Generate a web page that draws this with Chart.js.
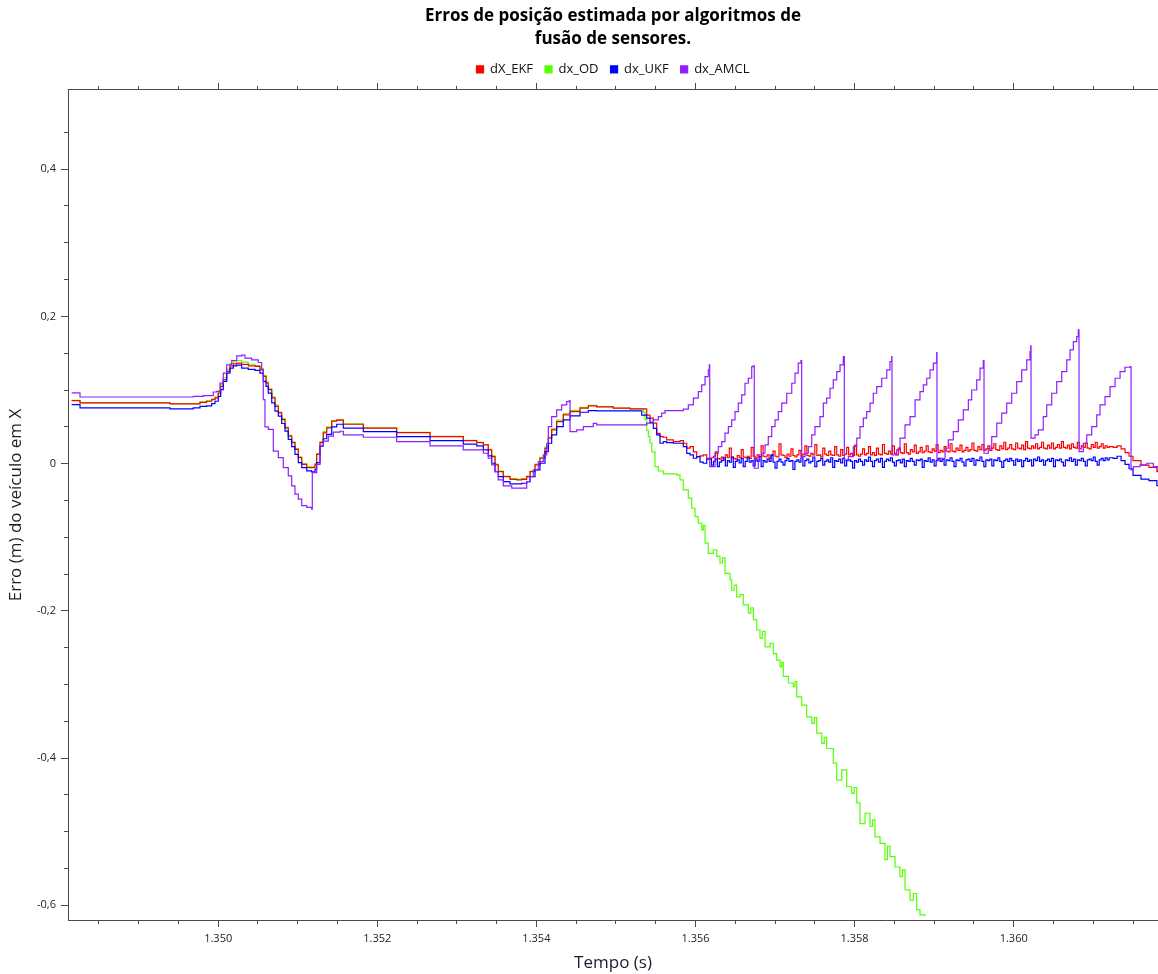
<!DOCTYPE html>
<html>
<head>
<meta charset="utf-8">
<script src="https://cdn.jsdelivr.net/npm/chart.js@4.4.1/dist/chart.umd.min.js"></script>
<style>
html,body{margin:0;padding:0;background:#ffffff;}
#wrap{width:1158px;height:974px;}
</style>
</head>
<body>
<div id="wrap"><canvas id="c" width="1158" height="974"></canvas></div>
<script>
// ---------------- DATA ----------------
const seriesNames = ['dX_EKF', 'dx_OD', 'dx_UKF', 'dx_AMCL'];

const xMajorTicks = [1.350, 1.352, 1.354, 1.356, 1.358, 1.360];
const xMinorTicks = [1.3485, 1.3490, 1.3495, 1.3500, 1.3505, 1.3510, 1.3515, 1.3520, 1.3525, 1.3530, 1.3535, 1.3540, 1.3545, 1.3550, 1.3555, 1.3560, 1.3565, 1.3570, 1.3575, 1.3580, 1.3585, 1.3590, 1.3595, 1.3600, 1.3605, 1.3610, 1.3615];
const yMajorTicks = [-0.6, -0.4, -0.2, 0, 0.2, 0.4];
const yMinorTicks = [-0.6, -0.55, -0.5, -0.45, -0.4, -0.35, -0.3, -0.25, -0.2, -0.15, -0.1, -0.05, 0, 0.05, 0.1, 0.15, 0.2, 0.25, 0.3, 0.35, 0.4, 0.45];

// shared time stamps (s) for the first part of EKF / OD / UKF
const headT = [1.348158, 1.348263, 1.349353, 1.349394, 1.349687, 1.349771, 1.349855, 1.349918, 1.349960, 1.350001,
  1.350031, 1.350064, 1.350107, 1.350148, 1.350190, 1.350233, 1.350295, 1.350378, 1.350463, 1.350525,
  1.350567, 1.350601, 1.350630, 1.350673, 1.350714, 1.350756, 1.350798, 1.350840, 1.350881, 1.350924,
  1.350965, 1.351007, 1.351050, 1.351113, 1.351175, 1.351217, 1.351238, 1.351280, 1.351321, 1.351364,
  1.351427, 1.351490, 1.351573, 1.351824, 1.352244, 1.352663, 1.353081, 1.353250, 1.353333, 1.353395,
  1.353438, 1.353480, 1.353521, 1.353584, 1.353668, 1.353752, 1.353815, 1.353878, 1.353920, 1.353983,
  1.354045, 1.354108, 1.354150, 1.354192, 1.354255, 1.354338, 1.354423, 1.354548, 1.354653, 1.354758,
  1.354967, 1.355177, 1.355324];

const ekfHeadV = [0.0856, 0.0824, 0.0824, 0.0811, 0.0811, 0.0833, 0.0847, 0.0869, 0.0892, 0.0959,
  0.1050, 0.1140, 0.1252, 0.1329, 0.1356, 0.1365, 0.1347, 0.1329, 0.1320, 0.1275,
  0.1185, 0.1095, 0.1004, 0.0892, 0.0779, 0.0689, 0.0599, 0.0486, 0.0374, 0.0284,
  0.0194, 0.0081, -0.0009, -0.0054, -0.0054, -0.0009, 0.0126, 0.0284, 0.0419, 0.0486,
  0.0577, 0.0592, 0.0535, 0.0481, 0.0421, 0.0367, 0.0313, 0.0285, 0.0254, 0.0186,
  0.0095, -0.0018, -0.0109, -0.0177, -0.0213, -0.0221, -0.0213, -0.0177, -0.0109, -0.0018,
  0.0073, 0.0209, 0.0345, 0.0458, 0.0571, 0.0662, 0.0707, 0.0753, 0.0784, 0.0771,
  0.0753, 0.0743, 0.0743];

const odHeadV = [0.0860, 0.0824, 0.0824, 0.0815, 0.0815, 0.0838, 0.0852, 0.0878, 0.0905, 0.0990,
  0.1080, 0.1170, 0.1280, 0.1360, 0.1392, 0.1401, 0.1380, 0.1350, 0.1330, 0.1290,
  0.1200, 0.1110, 0.1020, 0.0905, 0.0795, 0.0700, 0.0610, 0.0495, 0.0385, 0.0295,
  0.0205, 0.0092, 0.0000, -0.0045, -0.0045, 0.0005, 0.0140, 0.0300, 0.0435, 0.0500,
  0.0585, 0.0598, 0.0540, 0.0485, 0.0425, 0.0370, 0.0315, 0.0288, 0.0260, 0.0195,
  0.0105, -0.0008, -0.0100, -0.0168, -0.0205, -0.0213, -0.0205, -0.0168, -0.0100, -0.0008,
  0.0085, 0.0225, 0.0360, 0.0475, 0.0590, 0.0680, 0.0722, 0.0765, 0.0790, 0.0775,
  0.0755, 0.0745, 0.0745];

const ukfHeadV = [0.0802, 0.0757, 0.0757, 0.0743, 0.0757, 0.0779, 0.0784, 0.0815, 0.0847, 0.0914,
  0.1004, 0.1117, 0.1230, 0.1297, 0.1329, 0.1338, 0.1297, 0.1279, 0.1266, 0.1230,
  0.1117, 0.1050, 0.0959, 0.0824, 0.0712, 0.0644, 0.0545, 0.0441, 0.0329, 0.0230,
  0.0126, 0.0013, -0.0054, -0.0099, -0.0113, -0.0077, 0.0013, 0.0239, 0.0338, 0.0396,
  0.0500, 0.0535, 0.0481, 0.0435, 0.0367, 0.0313, 0.0264, 0.0240, 0.0186, 0.0105,
  0.0005, -0.0109, -0.0177, -0.0245, -0.0276, -0.0276, -0.0267, -0.0245, -0.0177, -0.0086,
  0.0005, 0.0164, 0.0277, 0.0390, 0.0503, 0.0594, 0.0648, 0.0698, 0.0721, 0.0716,
  0.0716, 0.0716, 0.0660];

// transition EKF / UKF
const transT = [1.355387, 1.355428, 1.355470, 1.355512, 1.355554, 1.355595, 1.355638, 1.355721, 1.355805, 1.355847,
  1.355890, 1.355931, 1.355973, 1.356015, 1.356057, 1.356098, 1.356141];
const ekfTransV = [0.0660, 0.0617, 0.0550, 0.0410, 0.0367, 0.0358, 0.0322, 0.0300, 0.0313, 0.0277,
  0.0210, 0.0230, 0.0160, 0.0095, 0.0105, 0.0118, 0.0073];
const ukfTransV = [0.0617, 0.0560, 0.0480, 0.0390, 0.0277, 0.0300, 0.0285, 0.0277, 0.0277, 0.0230,
  0.0140, 0.0118, 0.0073, 0.0095, 0.0020, 0.0005, 0.0060];

// noisy stretch EKF / UKF
const noiseT = [
  1.356200, 1.356225, 1.356250, 1.356275, 1.356300, 1.356325, 1.356350, 1.356375, 1.356400, 1.356425,
  1.356450, 1.356475, 1.356500, 1.356525, 1.356550, 1.356575, 1.356600, 1.356625, 1.356650, 1.356675,
  1.356700, 1.356725, 1.356750, 1.356775, 1.356800, 1.356825, 1.356850, 1.356875, 1.356900, 1.356925,
  1.356950, 1.356975, 1.357000, 1.357025, 1.357050, 1.357075, 1.357100, 1.357125, 1.357150, 1.357175,
  1.357200, 1.357225, 1.357250, 1.357275, 1.357300, 1.357325, 1.357350, 1.357375, 1.357400, 1.357425,
  1.357450, 1.357475, 1.357500, 1.357525, 1.357550, 1.357575, 1.357600, 1.357625, 1.357650, 1.357675,
  1.357700, 1.357725, 1.357750, 1.357775, 1.357800, 1.357825, 1.357850, 1.357875, 1.357900, 1.357925,
  1.357950, 1.357975, 1.358000, 1.358025, 1.358050, 1.358075, 1.358100, 1.358125, 1.358150, 1.358175,
  1.358200, 1.358225, 1.358250, 1.358275, 1.358300, 1.358325, 1.358350, 1.358375, 1.358400, 1.358425,
  1.358450, 1.358475, 1.358500, 1.358525, 1.358550, 1.358575, 1.358600, 1.358625, 1.358650, 1.358675,
  1.358700, 1.358725, 1.358750, 1.358775, 1.358800, 1.358825, 1.358850, 1.358875, 1.358900, 1.358925,
  1.358950, 1.358975, 1.359000, 1.359025, 1.359050, 1.359075, 1.359100, 1.359125, 1.359150, 1.359175,
  1.359200, 1.359225, 1.359250, 1.359275, 1.359300, 1.359325, 1.359350, 1.359375, 1.359400, 1.359425,
  1.359450, 1.359475, 1.359500, 1.359525, 1.359550, 1.359575, 1.359600, 1.359625, 1.359650, 1.359675,
  1.359700, 1.359725, 1.359750, 1.359775, 1.359800, 1.359825, 1.359850, 1.359875, 1.359900, 1.359925,
  1.359950, 1.359975, 1.360000, 1.360025, 1.360050, 1.360075, 1.360100, 1.360125, 1.360150, 1.360175,
  1.360200, 1.360225, 1.360250, 1.360275, 1.360300, 1.360325, 1.360350, 1.360375, 1.360400, 1.360425,
  1.360450, 1.360475, 1.360500, 1.360525, 1.360550, 1.360575, 1.360600, 1.360625, 1.360650, 1.360675,
  1.360700, 1.360725, 1.360750, 1.360775, 1.360800, 1.360825, 1.360850, 1.360875, 1.360900, 1.360925,
  1.360950, 1.360975, 1.361000, 1.361025, 1.361050, 1.361075, 1.361100, 1.361125, 1.361150, 1.361175,
  1.361200];
const ekfNoiseV = [
  0.008, 0.010, 0.016, 0.007, 0.006, 0.009, 0.005, 0.012, 0.008, 0.021,
  0.009, 0.007, 0.006, 0.011, 0.008, 0.019, 0.009, 0.008, 0.010, 0.007,
  0.022, 0.010, 0.007, 0.012, 0.009, 0.024, 0.010, 0.009, 0.012, 0.007,
  0.011, 0.017, 0.010, 0.009, 0.027, 0.012, 0.011, 0.008, 0.013, 0.010,
  0.020, 0.011, 0.009, 0.012, 0.018, 0.010, 0.013, 0.024, 0.011, 0.010,
  0.014, 0.012, 0.026, 0.011, 0.012, 0.009, 0.021, 0.013, 0.011, 0.017,
  0.012, 0.011, 0.023, 0.012, 0.010, 0.019, 0.011, 0.013, 0.022, 0.012,
  0.014, 0.011, 0.025, 0.012, 0.010, 0.013, 0.020, 0.012, 0.014, 0.023,
  0.012, 0.015, 0.011, 0.021, 0.013, 0.012, 0.026, 0.014, 0.013, 0.017,
  0.013, 0.024, 0.014, 0.012, 0.021, 0.015, 0.014, 0.027, 0.015, 0.013,
  0.019, 0.016, 0.025, 0.014, 0.016, 0.022, 0.015, 0.017, 0.024, 0.016,
  0.015, 0.020, 0.017, 0.026, 0.015, 0.018, 0.016, 0.023, 0.017, 0.016,
  0.027, 0.017, 0.016, 0.021, 0.018, 0.025, 0.016, 0.018, 0.022, 0.017,
  0.019, 0.028, 0.018, 0.017, 0.023, 0.019, 0.026, 0.018, 0.020, 0.024,
  0.018, 0.021, 0.027, 0.019, 0.018, 0.024, 0.020, 0.029, 0.019, 0.021,
  0.026, 0.020, 0.019, 0.028, 0.021, 0.020, 0.025, 0.019, 0.030, 0.021,
  0.020, 0.024, 0.021, 0.027, 0.020, 0.022, 0.029, 0.021, 0.020, 0.025,
  0.021, 0.028, 0.020, 0.022, 0.026, 0.021, 0.030, 0.022, 0.021, 0.025,
  0.020, 0.027, 0.022, 0.021, 0.029, 0.020, 0.024, 0.022, 0.028, 0.021,
  0.020, 0.026, 0.022, 0.029, 0.021, 0.023, 0.027, 0.021, 0.024, 0.022,
  0.023];
const ukfNoiseV = [
  -0.002, 0.003, 0.006, -0.004, 0.002, 0.004, 0.008, -0.003, 0.004, 0.002,
  0.009, -0.005, 0.003, 0.005, 0.001, 0.007, -0.004, 0.003, 0.008, 0.002,
  0.004, -0.003, 0.005, 0.003, 0.010, -0.004, 0.004, 0.002, 0.006, 0.003,
  0.012, 0.002, -0.006, 0.003, 0.006, 0.002, -0.002, 0.004, 0.007, 0.003,
  0.004, -0.008, 0.003, 0.005, 0.002, 0.008, -0.003, 0.004, 0.006, 0.001,
  0.003, 0.009, -0.004, 0.003, 0.004, 0.007, -0.002, 0.003, 0.005, 0.002,
  0.008, -0.005, 0.004, 0.003, 0.006, 0.001, 0.007, -0.003, 0.004, 0.005,
  0.003, -0.006, 0.004, 0.002, 0.006, 0.003, -0.002, 0.005, 0.003, 0.009,
  0.003, -0.004, 0.004, 0.006, 0.002, 0.007, -0.005, 0.003, 0.006, 0.004,
  0.008, 0.002, -0.003, 0.004, 0.005, 0.001, 0.006, -0.004, 0.004, 0.003,
  0.007, 0.003, -0.002, 0.005, 0.004, 0.006, -0.005, 0.004, 0.003, 0.008,
  0.002, 0.005, -0.003, 0.004, 0.007, 0.003, 0.006, -0.002, 0.005, 0.004,
  0.008, 0.003, -0.004, 0.005, 0.004, 0.007, 0.002, -0.003, 0.005, 0.006,
  0.003, 0.007, -0.002, 0.005, 0.004, 0.009, 0.003, -0.004, 0.005, 0.004,
  0.006, -0.003, 0.005, 0.004, 0.008, 0.003, -0.005, 0.004, 0.006, 0.003,
  0.007, 0.004, -0.002, 0.006, 0.003, 0.005, -0.004, 0.004, 0.007, 0.003,
  0.005, -0.003, 0.006, 0.004, 0.009, 0.003, 0.005, -0.002, 0.004, 0.006,
  0.003, 0.007, -0.004, 0.005, 0.004, 0.006, 0.002, -0.003, 0.005, 0.004,
  0.008, 0.003, 0.006, -0.002, 0.005, 0.004, 0.007, 0.003, -0.003, 0.005,
  0.006, 0.004, 0.009, 0.003, -0.002, 0.005, 0.007, 0.004, 0.008, 0.005,
  0.008];

// end of EKF / UKF
const tailT = [1.36125, 1.36130, 1.36135, 1.36140, 1.36145, 1.36150, 1.36160, 1.36170, 1.36180, 1.36190];
const ekfTailV = [0.022, 0.024, 0.020, 0.015, 0.010, 0.004, -0.002, -0.005, -0.011, -0.014];
const ukfTailV = [0.007, 0.010, 0.004, -0.001, -0.007, -0.016, -0.021, -0.023, -0.030, -0.035];

// odometry drift
const odTailT = [1.355344, 1.355365, 1.355387, 1.355407, 1.355428, 1.355450, 1.355491, 1.355533, 1.355595, 1.355680,
  1.355764, 1.355805, 1.355847, 1.355910, 1.355952, 1.355994, 1.356035, 1.356078, 1.356099, 1.356120,
  1.356161, 1.356224, 1.356267, 1.356308, 1.356340, 1.356371, 1.356434, 1.356455, 1.356486, 1.356518,
  1.356560, 1.356601, 1.356664, 1.356695, 1.356727, 1.356770, 1.356811, 1.356842, 1.356874, 1.356937,
  1.356978, 1.357021, 1.357062, 1.357083, 1.357104, 1.357167, 1.357230, 1.357251, 1.357272, 1.357335,
  1.357398, 1.357461, 1.357492, 1.357524, 1.357587, 1.357618, 1.357649, 1.357732, 1.357775, 1.357838,
  1.357901, 1.357964, 1.357995, 1.358027, 1.358068, 1.358131, 1.358194, 1.358225, 1.358257, 1.358320,
  1.358382, 1.358413, 1.358445, 1.358508, 1.358571, 1.358602, 1.358634, 1.358697, 1.358738, 1.358781,
  1.358822, 1.358885];
const odTailV = [0.0700, 0.0600, 0.0450, 0.0367, 0.0280, 0.0160, -0.0040, -0.0100, -0.0140, -0.0140,
  -0.0154, -0.0220, -0.0357, -0.0470, -0.0606, -0.0720, -0.0810, -0.0900, -0.0840, -0.1080,
  -0.1220, -0.1170, -0.1260, -0.1350, -0.1280, -0.1490, -0.1580, -0.1720, -0.1650, -0.1810,
  -0.1780, -0.1920, -0.2030, -0.1960, -0.2120, -0.2260, -0.2370, -0.2280, -0.2490, -0.2440,
  -0.2580, -0.2670, -0.2760, -0.2700, -0.2890, -0.2980, -0.3030, -0.2960, -0.3170, -0.3280,
  -0.3440, -0.3530, -0.3450, -0.3660, -0.3800, -0.3720, -0.3870, -0.4070, -0.4300, -0.4160,
  -0.4390, -0.4480, -0.4400, -0.4610, -0.4890, -0.4750, -0.4930, -0.4840, -0.5070, -0.5160,
  -0.5380, -0.5200, -0.5340, -0.5480, -0.5610, -0.5520, -0.5790, -0.5930, -0.5840, -0.6060,
  -0.6130, -0.6150];

// AMCL
const amclT = [1.348158, 1.348263, 1.349353, 1.349687, 1.349813, 1.349938, 1.349981, 1.350023, 1.350064, 1.350107,
  1.350170, 1.350233, 1.350295, 1.350337, 1.350421, 1.350504, 1.350547, 1.350567, 1.350588, 1.350630,
  1.350693, 1.350756, 1.350818, 1.350881, 1.350924, 1.350965, 1.351007, 1.351050, 1.351113, 1.351175,
  1.351183, 1.351238, 1.351280, 1.351321, 1.351384, 1.351447, 1.351531, 1.351573, 1.351824, 1.352244,
  1.352663, 1.353081, 1.353333, 1.353395, 1.353438, 1.353480, 1.353521, 1.353584, 1.353690, 1.353815,
  1.353878, 1.353920, 1.353961, 1.354024, 1.354087, 1.354130, 1.354150, 1.354192, 1.354255, 1.354318,
  1.354381, 1.354414, 1.354423, 1.354507, 1.354590, 1.354715, 1.354758, 1.355324, 1.355387, 1.355470,
  1.355533, 1.355575, 1.355617, 1.355764, 1.355847, 1.355910, 1.355973, 1.356035, 1.356078, 1.356120,
  1.356161, 1.356174, 1.356179, 1.356204, 1.356245, 1.356287, 1.356330, 1.356371, 1.356413, 1.356455,
  1.356497, 1.356538, 1.356581, 1.356622, 1.356664, 1.356707, 1.356727, 1.356739, 1.356790, 1.356832,
  1.356874, 1.356915, 1.356958, 1.357000, 1.357041, 1.357084, 1.357147, 1.357210, 1.357251, 1.357292,
  1.357326, 1.357335, 1.357377, 1.357418, 1.357461, 1.357502, 1.357565, 1.357607, 1.357649, 1.357691,
  1.357732, 1.357775, 1.357817, 1.357858, 1.357871, 1.357921, 1.357984, 1.358027, 1.358068, 1.358110,
  1.358152, 1.358194, 1.358235, 1.358278, 1.358341, 1.358404, 1.358445, 1.358467, 1.358470, 1.358529,
  1.358571, 1.358634, 1.358697, 1.358760, 1.358822, 1.358864, 1.358907, 1.358948, 1.358990, 1.359024,
  1.359032, 1.359036, 1.359074, 1.359137, 1.359178, 1.359241, 1.359304, 1.359367, 1.359430, 1.359472,
  1.359535, 1.359577, 1.359618, 1.359627, 1.359681, 1.359724, 1.359787, 1.359849, 1.359912, 1.359975,
  1.360038, 1.360101, 1.360164, 1.360205, 1.360214, 1.360218, 1.360268, 1.360310, 1.360372, 1.360415,
  1.360478, 1.360541, 1.360604, 1.360667, 1.360708, 1.360750, 1.360792, 1.360812, 1.360821, 1.360875,
  1.360918, 1.360981, 1.361044, 1.361085, 1.361148, 1.361211, 1.361274, 1.361337, 1.361399, 1.361462,
  1.361475, 1.361504, 1.361588, 1.361672, 1.361755, 1.361814];
const amclV = [0.0960, 0.0905, 0.0905, 0.0914, 0.0923, 0.0973, 0.0982, 0.1095, 0.1230, 0.1342,
  0.1401, 0.1464, 0.1473, 0.1432, 0.1410, 0.1374, 0.1275, 0.0869, 0.0500, 0.0464,
  0.0171, 0.0081, -0.0054, -0.0167, -0.0302, -0.0415, -0.0482, -0.0572, -0.0595, -0.0617,
  -0.0122, -0.0009, 0.0239, 0.0306, 0.0374, 0.0428, 0.0440, 0.0390, 0.0358, 0.0299,
  0.0240, 0.0186, 0.0141, 0.0073, -0.0018, -0.0109, -0.0221, -0.0303, -0.0334, -0.0334,
  -0.0245, -0.0177, -0.0086, 0.0028, 0.0118, 0.0277, 0.0503, 0.0639, 0.0730, 0.0797,
  0.0843, 0.0856, 0.0435, 0.0458, 0.0503, 0.0548, 0.0526, 0.0526, 0.0549, 0.0594,
  0.0639, 0.0685, 0.0720, 0.0720, 0.0739, 0.0798, 0.0889, 0.0978, 0.1069, 0.1182,
  0.1273, 0.1341, -0.0041, -0.0041, 0.0141, 0.0231, 0.0299, 0.0413, 0.0503, 0.0594,
  0.0707, 0.0821, 0.0933, 0.1092, 0.1160, 0.1318, 0.1327, -0.0063, 0.0050, 0.0141,
  0.0254, 0.0367, 0.0503, 0.0594, 0.0707, 0.0821, 0.0956, 0.1092, 0.1228, 0.1364,
  0.1400, 0.0095, 0.0141, 0.0231, 0.0390, 0.0503, 0.0639, 0.0821, 0.0889, 0.1024,
  0.1137, 0.1250, 0.1341, 0.1454, 0.0050, 0.0095, 0.0231, 0.0345, 0.0503, 0.0617,
  0.0707, 0.0821, 0.0956, 0.1046, 0.1160, 0.1273, 0.1386, 0.1454, 0.0118, 0.0186,
  0.0345, 0.0526, 0.0639, 0.0865, 0.0978, 0.1069, 0.1160, 0.1273, 0.1364, 0.1373,
  0.1508, 0.0050, 0.0073, 0.0209, 0.0322, 0.0435, 0.0594, 0.0730, 0.0865, 0.1000,
  0.1137, 0.1296, 0.1400, 0.0141, 0.0209, 0.0367, 0.0549, 0.0685, 0.0821, 0.0956,
  0.1114, 0.1273, 0.1409, 0.1522, 0.1599, 0.0345, 0.0390, 0.0458, 0.0639, 0.0798,
  0.0956, 0.1114, 0.1250, 0.1409, 0.1545, 0.1658, 0.1726, 0.1817, 0.0163, 0.0277,
  0.0390, 0.0503, 0.0661, 0.0798, 0.0910, 0.1046, 0.1160, 0.1250, 0.1309, 0.1318,
  -0.0086, -0.0041, -0.0018, 0.0005, -0.0041, -0.0109];

// ---------------- CHART ----------------
const ekfT = headT.concat(transT, noiseT, tailT);
const ekfV = ekfHeadV.concat(ekfTransV, ekfNoiseV, ekfTailV);
const ukfT = headT.concat(transT, noiseT, tailT);
const ukfV = ukfHeadV.concat(ukfTransV, ukfNoiseV, ukfTailV);
const odT = headT.concat(odTailT);
const odV = odHeadV.concat(odTailV);

const X_MIN = 1.348112, X_MAX = 1.361814;
const Y_MIN = -0.62, Y_MAX = 0.5077;
const FONT = "'Open Sans', 'Noto Sans', 'DejaVu Sans', sans-serif";
const AXIS_COLOR = '#4a4a4a';

const toXY = (T, V) => T.map((t, i) => ({ x: t, y: V[i] }));
const ds = (label, T, V, color, order) => ({
  label, data: toXY(T, V), borderColor: color, backgroundColor: color,
  borderWidth: 1.2, pointRadius: 0, stepped: true, fill: false, order
});

const majorX = (pos, extra) => Object.assign({
  type: 'linear', position: pos, min: X_MIN, max: X_MAX, weight: 0,
  afterBuildTicks: s => { s.ticks = xMajorTicks.map(v => ({ value: v })); },
  grid: { drawOnChartArea: false, drawTicks: true, tickLength: 7, color: AXIS_COLOR },
  border: { display: true, color: AXIS_COLOR, width: 1 }
}, extra);
const minorX = (pos) => ({
  type: 'linear', position: pos, min: X_MIN, max: X_MAX, weight: -1,
  afterBuildTicks: s => { s.ticks = xMinorTicks.map(v => ({ value: v })); },
  ticks: { display: false },
  grid: { drawOnChartArea: false, drawTicks: true, tickLength: 4, color: AXIS_COLOR },
  border: { display: false },
  afterFit: s => { s.height = 0; }
});

new Chart(document.getElementById('c'), {
  type: 'line',
  data: {
    datasets: [
      ds(seriesNames[0], ekfT, ekfV, '#ff0000', 2),
      ds(seriesNames[1], odT, odV, '#55ff00', 3),
      ds(seriesNames[2], ukfT, ukfV, '#0000ff', 1),
      ds(seriesNames[3], amclT, amclV, '#8f1fff', 0)
    ]
  },
  options: {
    responsive: false,
    animation: false,
    devicePixelRatio: 1,
    layout: { padding: { left: 0, right: 0, top: 0, bottom: 0 } },
    plugins: {
      tooltip: { enabled: false },
      title: {
        display: true, fullSize: false,
        text: ['Erros de posição estimada por algoritmos de', 'fusão de sensores.'],
        color: '#000000',
        font: { family: FONT, size: 17, weight: 'bold', lineHeight: 1.35 },
        padding: { top: 5, bottom: 0 }
      },
      legend: {
        display: true, fullSize: false, position: 'top',
        labels: {
          boxWidth: 7, boxHeight: 7, padding: 12, color: '#111111',
          font: { family: FONT, size: 13 },
          sort: (a, b) => a.datasetIndex - b.datasetIndex
        }
      }
    },
    scales: {
      x: majorX('bottom', {
        ticks: { callback: v => Number(v).toFixed(3), font: { family: FONT, size: 11 }, color: '#222222', padding: 5, maxRotation: 0, autoSkip: false },
        title: { display: true, text: 'Tempo (s)', color: '#1c1c2e', font: { family: FONT, size: 17 }, padding: { top: 0, bottom: 1 } },
        afterFit: s => { s.height = 54; }
      }),
      xMinor: minorX('bottom'),
      xTop: majorX('top', {
        ticks: { display: false },
        afterFit: s => { s.height = 4; }
      }),
      xTopMinor: minorX('top'),
      y: {
        type: 'linear', position: 'left', min: Y_MIN, max: Y_MAX, weight: 0,
        afterBuildTicks: s => { s.ticks = yMajorTicks.map(v => ({ value: v })); },
        ticks: {
          callback: v => (Math.abs(v) < 1e-9 ? '0' : Number(v).toFixed(1).replace('.', ',')),
          font: { family: FONT, size: 11 }, color: '#222222', padding: 5, autoSkip: false
        },
        grid: { drawOnChartArea: false, drawTicks: true, tickLength: 7, color: AXIS_COLOR },
        border: { display: true, color: AXIS_COLOR, width: 1 },
        title: { display: true, text: 'Erro (m) do veículo em X', color: '#1c1c2e', font: { family: FONT, size: 17 }, padding: { top: 6, bottom: 0 } },
        afterFit: s => { s.width = 68; }
      },
      yMinor: {
        type: 'linear', position: 'left', min: Y_MIN, max: Y_MAX, weight: -1,
        afterBuildTicks: s => { s.ticks = yMinorTicks.map(v => ({ value: v })); },
        ticks: { display: false },
        grid: { drawOnChartArea: false, drawTicks: true, tickLength: 4, color: AXIS_COLOR },
        border: { display: false },
        afterFit: s => { s.width = 0; }
      }
    }
  }
});
</script>
</body>
</html>
